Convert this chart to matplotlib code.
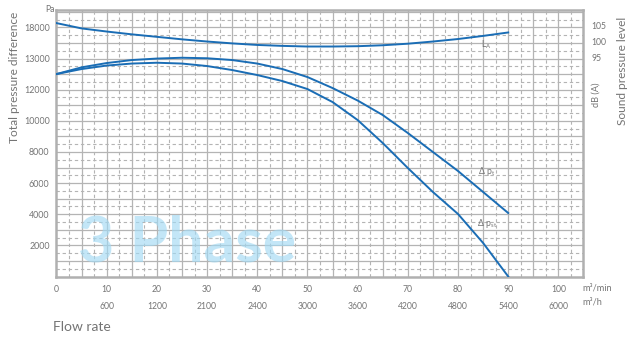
import matplotlib
matplotlib.use("Agg")
import matplotlib.pyplot as plt
import numpy as np

# ---------------- data ----------------
flow_min = [0, 5, 10, 15, 20, 25, 30, 35, 40, 45, 50, 55, 60, 65, 70, 75, 80, 85, 90]
dp_total = [13006, 13436, 13712, 13905, 14001, 14053, 14020, 13905, 13680, 13327,
            12813, 12107, 11304, 10372, 9217, 7996, 6776, 5427, 4078]
dp_static = [13006, 13327, 13552, 13680, 13732, 13680, 13520, 13263, 12942, 12556,
             12042, 11207, 10051, 8574, 6968, 5427, 4014, 2152, 0]
sound_db = [105.9, 104.2, 103.2, 102.3, 101.5, 100.7, 100.0, 99.4, 98.9, 98.6,
            98.4, 98.4, 98.5, 98.8, 99.3, 100.0, 100.8, 101.8, 102.9]

x_ticks = [0, 10, 20, 30, 40, 50, 60, 70, 80, 90, 100]
x_labels_min = ["0", "10", "20", "30", "40", "50", "60", "70", "80", "90", "100"]
x_labels_h = ["", "600", "1200", "2100", "2400", "3000", "3600", "4200", "4800", "5400", "6000"]
y_ticks = [2000, 4000, 6000, 8000, 10000, 12000, 14000, 16000]
y_labels = ["2000", "4000", "6000", "8000", "10000", "12000", "13000", "18000"]
db_ticks = [95, 100, 105]
db_labels = ["95", "100", "105"]

# ---------------- style ----------------
W, H = 627, 340
FONT = ["Lato", "DejaVu Sans"]
plt.rcParams["font.family"] = FONT
TXT = "#747474"
BLUE = "#1a6db5"
GRID = "#b4b4b4"

fig = plt.figure(figsize=(W / 100, H / 100), dpi=100)
L, R, T, B = 56.5, 583, 10, 276.5
ax = fig.add_axes([L / W, 1 - B / H, (R - L) / W, (B - T) / H])
ax.set_xlim(0, 104.9)
ax.set_ylim(0, 17120)

# grid
for v in np.arange(5, 104, 5):
    ax.axvline(v, color=GRID, lw=0.9, zorder=1)
for v in np.arange(2.5, 104, 5):
    ax.axvline(v, color=GRID, lw=0.8, ls=(0, (3, 2.5)), zorder=1)
for v in np.arange(1000, 17100, 1000):
    ax.axhline(v, color=GRID, lw=0.9, zorder=1)
for v in np.arange(500, 17100, 1000):
    ax.axhline(v, color=GRID, lw=0.8, ls=(0, (3, 2.5)), zorder=1)

for s in ax.spines.values():
    s.set_color("#b0b0b0")
    s.set_linewidth(1.8)

ax.plot(flow_min, dp_total, color=BLUE, lw=1.4, zorder=4, solid_joinstyle="round")
ax.plot(flow_min, dp_static, color=BLUE, lw=1.4, zorder=4, solid_joinstyle="round")

ax.set_xticks(x_ticks)
ax.set_xticklabels([a if not b else f"{a}\n{b}" for a, b in zip(x_labels_min, x_labels_h)],
                   fontsize=6.2, color=TXT, linespacing=2.1)
ax.set_yticks(y_ticks)
ax.set_yticklabels(y_labels, fontsize=6.4, color=TXT)
ax.tick_params(length=0, pad=6)
ax.tick_params(axis="y", pad=5)

# sound axis
ax2 = ax.twinx()
ax2.set_ylim(24.7, 110.1)
ax2.plot(flow_min, sound_db, color=BLUE, lw=1.4, zorder=4, solid_joinstyle="round")
ax2.set_yticks(db_ticks)
ax2.set_yticklabels(db_labels, fontsize=6.2, color=TXT)
ax2.tick_params(length=0, pad=6)
for s in ax2.spines.values():
    s.set_visible(False)

# watermark
ax.text(0.041, 0.058, "3 Phase", transform=ax.transAxes, fontsize=45, fontweight="bold",
        color="#a3daf4", alpha=0.65, ha="left", va="baseline", zorder=3)

# curve labels
ax.text(84.6, 14900, r"$\mathregular{L_A}$", fontsize=6.2, color=TXT, va="center", zorder=5)
ax.text(84.0, 6750, r"$\mathregular{\Delta\ p_t}$", fontsize=6.2, color=TXT, va="center", zorder=5)
ax.text(83.8, 3380, r"$\mathregular{\Delta\ p_{st}}$", fontsize=6.2, color=TXT, va="center", zorder=5)


def fx(x):
    return x / W


def fy(y):
    return 1 - y / H


fig.text(fx(45), fy(10), "Pa", fontsize=6.2, color=TXT, va="center", ha="left")
fig.text(fx(15), fy(77), "Total pressure difference", fontsize=8.6, color=TXT,
         rotation=90, ha="center", va="center")
fig.text(fx(596), fy(95), "dB (A)", fontsize=6.6, color=TXT, rotation=90, ha="center", va="center")
fig.text(fx(622), fy(71), "Sound pressure level", fontsize=8.6, color=TXT,
         rotation=90, ha="center", va="center")
fig.text(fx(582), fy(288), "m³/min", fontsize=6.6, color=TXT, ha="left", va="center")
fig.text(fx(582), fy(302), "m³/h", fontsize=6.6, color=TXT, ha="left", va="center")
fig.text(fx(53), fy(327), "Flow rate", fontsize=10, color=TXT, ha="left", va="center")

fig.savefig("out.png", dpi=100)
